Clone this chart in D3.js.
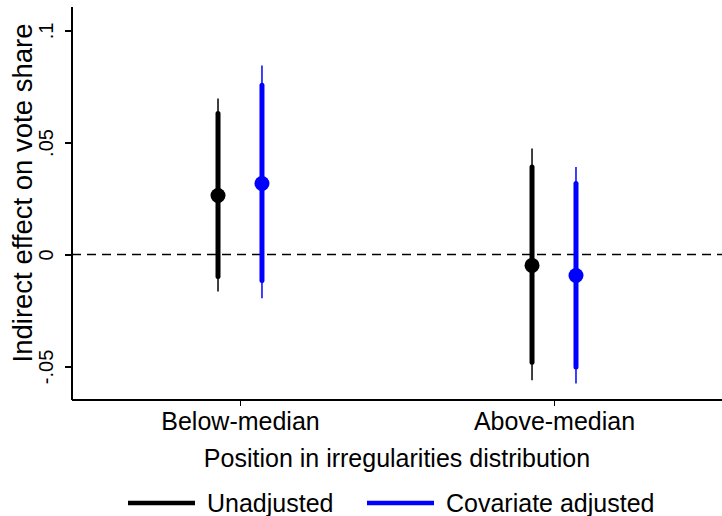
<!DOCTYPE html>
<html>
<head>
  <meta charset="utf-8">
  <title>Indirect effect on vote share</title>
  <style>
    body { margin: 0; background: #fff; }
    svg { font-family: "Liberation Sans", Arial, sans-serif; }
    .axis path, .axis line { fill: none; stroke: black; stroke-width: 1.3; shape-rendering: crispEdges; }
  </style>
  <script src="https://d3js.org/d3.v7.min.js"></script>
</head>
<body>
  <script>
    // data
    var groups = ['Below-median', 'Above-median'];
    var seriesNames = ['Unadjusted', 'Covariate adjusted'];
    var seriesColors = ['#000000', '#0000ff'];
    var estimate = [[0.0263, -0.0049], [0.0317, -0.0094]];
    var innerLo = [[-0.0098, -0.0481], [-0.0116, -0.0503]];
    var innerHi = [[0.0629, 0.0390], [0.0756, 0.0317]];
    var outerLo = [[-0.0165, -0.0562], [-0.0196, -0.0576]];
    var outerHi = [[0.0696, 0.0473], [0.0844, 0.0390]];
    var yTicks = [-0.05, 0, 0.05, 0.1];
    var yTickLabels = ['-.05', '0', '.05', '.1'];

    var width = 722, height = 516;
    var svg = d3.select('body').append('svg')
      .attr('width', width).attr('height', height);

    var plot = {left: 72, right: 722, top: 7, bottom: 400};
    var offset = 0.07;

    var x = d3.scaleLinear().domain([0.465, 2.535]).range([plot.left, plot.right]);
    var y = d3.scaleLinear().domain([-0.065, 0.1105]).range([plot.bottom, plot.top]);

    // zero line
    svg.append('line')
      .attr('x1', plot.left).attr('x2', plot.right)
      .attr('y1', y(0)).attr('y2', y(0))
      .attr('stroke', 'black').attr('stroke-width', 1.4)
      .attr('stroke-dasharray', '9,6');

    // axes
    var yAxis = d3.axisLeft(y).tickValues(yTicks).tickSize(7)
      .tickFormat(function(d, i) { return yTickLabels[i]; });
    var gy = svg.append('g').attr('class', 'axis')
      .attr('transform', 'translate(' + plot.left + ',0)')
      .call(yAxis);
    gy.select('.domain').attr('d', 'M0,' + plot.top + 'V' + plot.bottom);
    gy.selectAll('text')
      .attr('font-size', 20).attr('font-family', '"Liberation Sans", Arial, sans-serif')
      .attr('text-anchor', 'middle')
      .attr('transform', 'rotate(-90)')
      .attr('x', 0)
      .attr('y', -19).attr('dy', 0);

    var xAxis = d3.axisBottom(x).tickValues([1, 2]).tickSize(6)
      .tickFormat(function(d) { return groups[d - 1]; });
    var gx = svg.append('g').attr('class', 'axis')
      .attr('transform', 'translate(0,' + plot.bottom + ')')
      .call(xAxis);
    gx.select('.domain').attr('d', 'M' + plot.left + ',0H' + plot.right);
    gx.selectAll('text')
      .attr('font-size', 25).attr('font-family', '"Liberation Sans", Arial, sans-serif')
      .attr('y', 30).attr('dy', 0);

    // axis titles
    svg.append('text')
      .attr('transform', 'rotate(-90)')
      .attr('x', -193).attr('y', 32)
      .attr('text-anchor', 'middle').attr('font-size', 27.5)
      .text('Indirect effect on vote share');
    svg.append('text')
      .attr('x', 397).attr('y', 467)
      .attr('text-anchor', 'middle').attr('font-size', 25)
      .text('Position in irregularities distribution');

    // error bars and points
    seriesNames.forEach(function(name, s) {
      var g = svg.append('g');
      var pos = function(i) { return x(i + 1 + (s === 0 ? -offset : offset)); };
      g.selectAll('.outer').data(groups).enter().append('line')
        .attr('x1', function(d, i) { return pos(i); })
        .attr('x2', function(d, i) { return pos(i); })
        .attr('y1', function(d, i) { return y(outerLo[s][i]); })
        .attr('y2', function(d, i) { return y(outerHi[s][i]); })
        .attr('stroke', seriesColors[s]).attr('stroke-width', 1.5);
      g.selectAll('.inner').data(groups).enter().append('line')
        .attr('x1', function(d, i) { return pos(i); })
        .attr('x2', function(d, i) { return pos(i); })
        .attr('y1', function(d, i) { return y(innerLo[s][i]); })
        .attr('y2', function(d, i) { return y(innerHi[s][i]); })
        .attr('stroke', seriesColors[s]).attr('stroke-width', 5)
        .attr('stroke-linecap', 'round');
      g.selectAll('circle').data(groups).enter().append('circle')
        .attr('cx', function(d, i) { return pos(i); })
        .attr('cy', function(d, i) { return y(estimate[s][i]); })
        .attr('r', 7.5)
        .attr('fill', seriesColors[s]);
    });

    // legend
    var legendX = [128, 367];
    var legend = svg.selectAll('.legend').data(seriesNames).enter().append('g')
      .attr('transform', function(d, i) { return 'translate(' + legendX[i] + ',503)'; });
    legend.append('line')
      .attr('x1', 0).attr('x2', 67).attr('y1', 0).attr('y2', 0)
      .attr('stroke', function(d, i) { return seriesColors[i]; })
      .attr('stroke-width', 4.5);
    legend.append('text')
      .attr('x', 79).attr('y', 9)
      .attr('font-size', 25)
      .text(function(d) { return d; });
  </script>
</body>
</html>
